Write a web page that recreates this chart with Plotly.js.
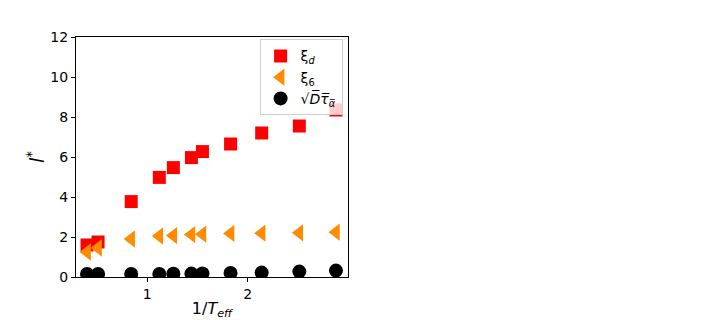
<!DOCTYPE html>
<html>
<head>
<meta charset="utf-8">
<script src="https://cdn.plot.ly/plotly-3.0.1.min.js"></script>
<style>body{margin:0;background:#fff}</style>
</head>
<body>
<div id="chart" style="width:706px;height:320px"></div>
<script>
// 1/T_eff values shared by all three series
const invT = [0.40, 0.51, 0.84, 1.12, 1.26, 1.44, 1.55, 1.83, 2.14, 2.515, 2.88]
const xiD = [1.6, 1.75, 3.77, 4.98, 5.47, 5.97, 6.27, 6.65, 7.2, 7.55, 8.35]
const xi6 = [1.25, 1.45, 1.9, 2.05, 2.07, 2.12, 2.14, 2.18, 2.19, 2.21, 2.24]
const sqrtDtau = [0.15, 0.15, 0.15, 0.15, 0.16, 0.17, 0.18, 0.2, 0.22, 0.27, 0.32]

const tickFont = {family: 'DejaVu Sans', size: 14, color: '#000'}

const traces = [
  {
    x: invT, y: xiD, name: 'ξ<sub><i>d</i></sub>',
    type: 'scatter', mode: 'markers', cliponaxis: true,
    marker: {symbol: 'square', size: 13, color: '#ff0000'},
  },
  {
    x: invT, y: xi6, name: 'ξ<sub>6</sub>',
    type: 'scatter', mode: 'markers', cliponaxis: true,
    marker: {symbol: 'triangle-left', size: 15, color: '#ff8c00'},
  },
  {
    x: invT, y: sqrtDtau, name: '√<i>D̅τ̅</i><sub><i>α̅</i></sub>',
    type: 'scatter', mode: 'markers', cliponaxis: true,
    marker: {symbol: 'circle', size: 14, color: '#000'},
  },
]

var layout = {
  width: 706,
  height: 320,
  margin: {l: 76, r: 358, t: 37, b: 43},
  paper_bgcolor: '#fff',
  plot_bgcolor: '#fff',
  font: tickFont,
  showlegend: true,
  legend: {
    x: 0.675, y: 0.99, xanchor: 'left', yanchor: 'top',
    bgcolor: 'rgba(255,255,255,0.8)', bordercolor: '#d0d0d0', borderwidth: 1,
    font: {family: 'DejaVu Sans', size: 14, color: '#000'},
    itemwidth: 30,
  },
  xaxis: {
    range: [0.29, 3.0],
    tickvals: [1, 2],
    ticks: 'outside', ticklen: 4, tickcolor: '#000',
    tickfont: tickFont,
    showline: true, mirror: true, linecolor: '#000', linewidth: 1,
    showgrid: false, zeroline: false,
    title: {text: '1/<i>T</i><sub><i>eff</i></sub>', font: {family: 'DejaVu Sans', size: 16, color: '#000'}, standoff: 4},
  },
  yaxis: {
    range: [0, 12],
    tickvals: [0, 2, 4, 6, 8, 10, 12],
    ticks: 'outside', ticklen: 4, tickcolor: '#000',
    tickfont: tickFont,
    showline: true, mirror: true, linecolor: '#000', linewidth: 1,
    showgrid: false, zeroline: false,
    automargin: true,
    title: {text: '<i>l</i><sup>*</sup>', font: {family: 'DejaVu Sans', size: 19, color: '#000'}, standoff: 0},
  },
}

Plotly.newPlot('chart', traces, layout, {displayModeBar: false, staticPlot: true})
</script>
</body>
</html>
